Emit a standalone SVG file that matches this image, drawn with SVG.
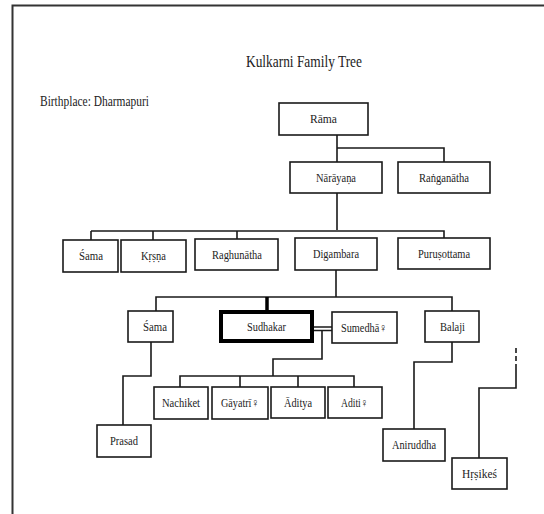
<svg xmlns="http://www.w3.org/2000/svg" width="544" height="514" viewBox="0 0 544 514">
<style>
.box{fill:#fff;stroke:#1a1a1a;stroke-width:1.6}
.thick{fill:#fff;stroke:#000;stroke-width:4}
.lbl{font-family:"Liberation Serif","DejaVu Serif",serif;font-size:12.5px;fill:#222;text-anchor:middle}
.ln{fill:none;stroke:#1a1a1a;stroke-width:1.6}
.hd{font-family:"Liberation Serif","DejaVu Serif",serif;fill:#222}
</style>
<rect x="0" y="0" width="544" height="514" fill="#fff"/>
<path d="M12.5 520 V5.5 H550" fill="none" stroke="#333" stroke-width="2"/>
<text class="hd" x="246" y="67" font-size="17" textLength="116" lengthAdjust="spacingAndGlyphs">Kulkarni Family Tree</text>
<text class="hd" x="40" y="106" font-size="14" textLength="109" lengthAdjust="spacingAndGlyphs">Birthplace: Dharmapuri</text>
<g id="connectors">
<path class="ln" d="M337 135 V162 M337 148 H444 V162"/>
<path class="ln" d="M337 193 V230 M91 231 V240 M91 231 H444 V238 M153 231 V240 M237 231 V239"/>
<path class="ln" d="M336 270 V297 M156 311 V297 H452 V311"/>
<path d="M267 297 V310" fill="none" stroke="#000" stroke-width="3.5"/>
<path class="ln" d="M314 327 H332 M314 330.5 H332"/>
<path class="ln" d="M322 330 V359 H273 V376 M180 387 V376 H354 V387 M240 376 V387 M298 376 V387"/>
<path class="ln" d="M151 342 V376 H123 V425"/>
<path class="ln" d="M452 342 V362 H414 V429"/>
<path class="ln" d="M516 348 V368" stroke-dasharray="5,3"/>
<path class="ln" d="M516 368 V388 H479 V458"/>
</g>
<g id="rama"><rect class="box" x="279" y="103" width="89" height="32"/><text class="lbl" x="323.5" y="123" textLength="27" lengthAdjust="spacingAndGlyphs">Rāma</text></g>
<g id="narayana"><rect class="box" x="290" y="162" width="92" height="31"/><text class="lbl" x="336" y="182" textLength="40" lengthAdjust="spacingAndGlyphs">Nārāyaṇa</text></g>
<g id="ranganatha"><rect class="box" x="398" y="162" width="92" height="31"/><text class="lbl" x="444" y="182" textLength="50" lengthAdjust="spacingAndGlyphs">Raṅganātha</text></g>
<g id="sama1"><rect class="box" x="63" y="240" width="55" height="32"/><text class="lbl" x="91" y="260" textLength="24" lengthAdjust="spacingAndGlyphs">Śama</text></g>
<g id="krsna"><rect class="box" x="121" y="240" width="65" height="32"/><text class="lbl" x="153.5" y="260" textLength="25" lengthAdjust="spacingAndGlyphs">Kṛṣṇa</text></g>
<g id="raghunatha"><rect class="box" x="195" y="239" width="83" height="31"/><text class="lbl" x="237" y="259" textLength="50" lengthAdjust="spacingAndGlyphs">Raghunātha</text></g>
<g id="digambara"><rect class="box" x="295" y="238" width="82" height="32"/><text class="lbl" x="336" y="258" textLength="46" lengthAdjust="spacingAndGlyphs">Digambara</text></g>
<g id="purusottama"><rect class="box" x="398" y="238" width="92" height="31"/><text class="lbl" x="444" y="258" textLength="52" lengthAdjust="spacingAndGlyphs">Puruṣottama</text></g>
<g id="sama2"><rect class="box" x="128" y="311" width="45" height="31"/><text class="lbl" x="155" y="331" textLength="24" lengthAdjust="spacingAndGlyphs">Śama</text></g>
<g id="sudhakar"><rect class="thick" x="221" y="312" width="91" height="29"/><text class="lbl" x="266.5" y="331" textLength="39" lengthAdjust="spacingAndGlyphs">Sudhakar</text></g>
<g id="sumedha"><rect class="box" x="332" y="312" width="65" height="31"/><text class="lbl" x="364" y="332" textLength="46" lengthAdjust="spacingAndGlyphs">Sumedhā♀</text></g>
<g id="balaji"><rect class="box" x="425" y="311" width="54" height="31"/><text class="lbl" x="452.5" y="331" textLength="25" lengthAdjust="spacingAndGlyphs">Balaji</text></g>
<g id="nachiket"><rect class="box" x="154" y="387" width="54" height="32"/><text class="lbl" x="181" y="407" textLength="38" lengthAdjust="spacingAndGlyphs">Nachiket</text></g>
<g id="gayatri"><rect class="box" x="212" y="387" width="56" height="32"/><text class="lbl" x="240" y="407" textLength="38" lengthAdjust="spacingAndGlyphs">Gāyatrī♀</text></g>
<g id="aditya"><rect class="box" x="271" y="387" width="54" height="31"/><text class="lbl" x="298" y="407" textLength="28" lengthAdjust="spacingAndGlyphs">Āditya</text></g>
<g id="aditi"><rect class="box" x="328" y="387" width="54" height="31"/><text class="lbl" x="354.5" y="407" textLength="27" lengthAdjust="spacingAndGlyphs">Aditi♀</text></g>
<g id="prasad"><rect class="box" x="97" y="425" width="54" height="32"/><text class="lbl" x="124" y="445" textLength="28" lengthAdjust="spacingAndGlyphs">Prasad</text></g>
<g id="aniruddha"><rect class="box" x="383" y="429" width="62" height="32"/><text class="lbl" x="414" y="449" textLength="44" lengthAdjust="spacingAndGlyphs">Aniruddha</text></g>
<g id="hrsikesa"><rect class="box" x="452" y="458" width="55" height="31"/><text class="lbl" x="479.5" y="478" textLength="35" lengthAdjust="spacingAndGlyphs">Hṛṣikeś</text></g>
</svg>
